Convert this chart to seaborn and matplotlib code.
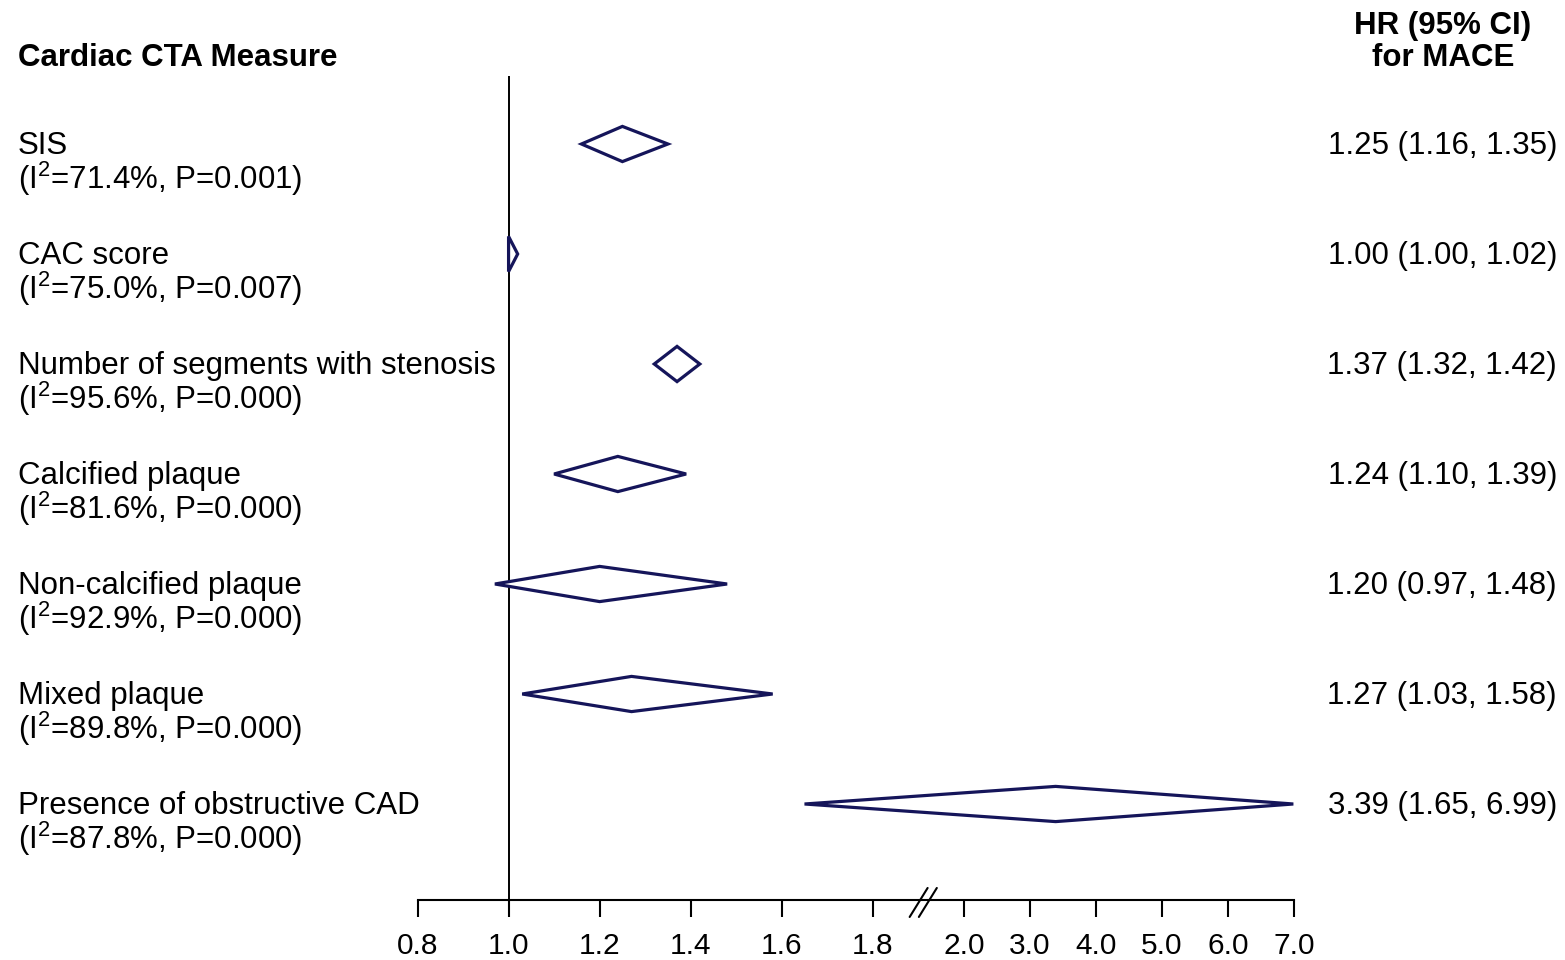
import numpy as np
import matplotlib
matplotlib.use("Agg")
import matplotlib.pyplot as plt
import matplotlib.transforms as mtransforms
import seaborn as sns

# Pooled hazard ratios per cardiac CTA measure
measures = [
    "SIS",
    "CAC score",
    "Number of segments with stenosis",
    "Calcified plaque",
    "Non-calcified plaque",
    "Mixed plaque",
    "Presence of obstructive CAD",
]
i2_pct = ["71.4", "75.0", "95.6", "81.6", "92.9", "89.8", "87.8"]
het_p = ["0.001", "0.007", "0.000", "0.000", "0.000", "0.000", "0.000"]
hr = [1.25, 1.00, 1.37, 1.24, 1.20, 1.27, 3.39]
ci_low = [1.16, 1.00, 1.32, 1.10, 0.97, 1.03, 1.65]
ci_high = [1.35, 1.02, 1.42, 1.39, 1.48, 1.58, 6.99]

tick_values = [0.8, 1.0, 1.2, 1.4, 1.6, 1.8, 2.0, 3.0, 4.0, 5.0, 6.0, 7.0]
tick_labels = ["0.8", "1.0", "1.2", "1.4", "1.6", "1.8",
               "2.0", "3.0", "4.0", "5.0", "6.0", "7.0"]

sns.set_theme(style="white")
plt.rcParams["font.family"] = ["Liberation Sans", "DejaVu Sans"]
plt.rcParams["mathtext.default"] = "regular"

NAVY = "#15155a"
BREAK = 2.0
SQUEEZE = 0.145  # axis compression above the break


def fwd(v):
    v = np.asarray(v, dtype=float)
    return np.where(v <= BREAK, v, BREAK + (v - BREAK) * SQUEEZE)


def inv(t):
    t = np.asarray(t, dtype=float)
    return np.where(t <= BREAK, t, BREAK + (t - BREAK) / SQUEEZE)


W, H = 1565, 960
fig = plt.figure(figsize=(W / 100, H / 100), dpi=100)
ax_left, ax_right, ax_top, ax_bottom = 417.5, 1294, 76, 900
ax = fig.add_axes([ax_left / W, 1 - ax_bottom / H,
                   (ax_right - ax_left) / W, (ax_bottom - ax_top) / H])
ax.set_xscale("function", functions=(fwd, inv))
ax.set_xlim(0.8, 7.0)
row0, row_gap = 144, 110
ax.set_ylim((ax_bottom - row0) / row_gap, (ax_top - row0) / row_gap)
ax.set_facecolor("none")

# Reference line at HR = 1
ax.axvline(1.0, color="black", lw=1.4, zorder=1)

# Pooled estimate diamonds
half_h = 0.16
for i in range(len(measures)):
    xs = [ci_low[i], hr[i], ci_high[i], hr[i]]
    ys = [i, i - half_h, i, i + half_h]
    ax.fill(xs, ys, facecolor="white", edgecolor=NAVY, lw=2.3,
            clip_on=False, zorder=3)

# Axis styling
for side in ("top", "right", "left"):
    ax.spines[side].set_visible(False)
ax.spines["bottom"].set_bounds(0.8, 7.0)
ax.spines["bottom"].set_linewidth(1.5)
ax.spines["bottom"].set_color("black")
ax.set_yticks([])
ax.set_xticks(tick_values)
ax.set_xticklabels(tick_labels)
ax.xaxis.set_minor_locator(matplotlib.ticker.NullLocator())
ax.tick_params(axis="x", which="major", bottom=True, direction="out",
               length=12, width=1.5, color="black", pad=11,
               labelsize=21.5, labelcolor="black")
ax.grid(False)

# Axis break marker
for dx in (0.0, 0.0105):
    ax.plot([0.5615 + dx, 0.582 + dx], [-0.0206, 0.0146],
            transform=ax.transAxes, color="black", lw=1.5, clip_on=False)

# Text columns
fs = 22.5
left_tr = mtransforms.offset_copy(
    mtransforms.blended_transform_factory(fig.transFigure, ax.transData),
    fig=fig, y=-2, units="dots")
left_tr2 = mtransforms.offset_copy(left_tr, fig=fig, y=-33, units="dots")
x_lab = 18 / W
x_val = 1557 / W
for i, name in enumerate(measures):
    ax.text(x_lab, i, name, transform=left_tr, ha="left", va="center",
            fontsize=fs, color="black")
    ax.text(x_lab, i, f"(I$^2$={i2_pct[i]}%, P={het_p[i]})",
            transform=left_tr2, ha="left", va="center", fontsize=fs,
            color="black")
    ax.text(x_val, i, f"{hr[i]:.2f} ({ci_low[i]:.2f}, {ci_high[i]:.2f})",
            transform=left_tr, ha="right", va="center", fontsize=fs,
            color="black")

fig.text(x_lab, 1 - 58 / H, "Cardiac CTA Measure", ha="left", va="center",
         fontsize=fs, fontweight="bold", color="black")
fig.text(1443 / W, 1 - 26 / H, "HR (95% CI)", ha="center", va="center",
         fontsize=fs, fontweight="bold", color="black")
fig.text(1443 / W, 1 - 58 / H, "for MACE", ha="center", va="center",
         fontsize=fs, fontweight="bold", color="black")

fig.savefig("out.png", dpi=100, facecolor="white")
